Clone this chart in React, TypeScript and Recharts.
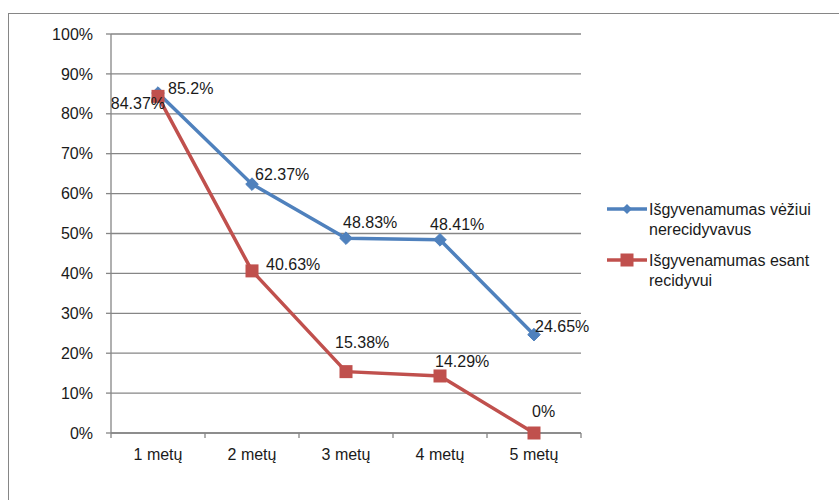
import React from "react";
import { LineChart, Line, XAxis, YAxis, CartesianGrid, LabelList } from "recharts";

const categories = ["1 metų", "2 metų", "3 metų", "4 metų", "5 metų"];
const seriesNames = ["Išgyvenamumas vėžiui nerecidyvavus", "Išgyvenamumas esant recidyvui"];
const blueValues = [85.2, 62.37, 48.83, 48.41, 24.65];
const redValues = [84.37, 40.63, 15.38, 14.29, 0];
const yTicks = [0, 10, 20, 30, 40, 50, 60, 70, 80, 90, 100];

const BLUE = "#4F81BD";
const RED = "#C0504D";
const GRID = "#868686";
const TEXT = "#1a1a1a";
const FONT = "'Liberation Sans', Arial, sans-serif";
const FS = 16;

// label placement (dx, baseline dy, anchor) per point
const blueLabelPlace: [number, number, string][] = [
  [10, 1, "start"],
  [3, -4, "start"],
  [-3, -10, "start"],
  [-10, -10, "start"],
  [1, -3, "start"],
];
const redLabelPlace: [number, number, string][] = [
  [7, 13, "end"],
  [14, -1, "start"],
  [-11, -24, "start"],
  [-5, -9, "start"],
  [-2, -16, "start"],
];

const data = categories.map((c, i) => ({
  x: i + 1,
  cat: c,
  blue: blueValues[i],
  red: redValues[i],
}));

const xTicks: number[] = [];
for (let i = 0; i <= categories.length; i++) {
  xTicks.push(i + 0.5);
  if (i < categories.length) xTicks.push(i + 1);
}

const fmt = (v: number) => `${v}%`;

const Diamond = (props: any) => {
  const { cx, cy } = props;
  if (cx == null || cy == null) return null;
  const r = 6.3;
  return (
    <polygon
      points={`${cx},${cy - r} ${cx + r},${cy} ${cx},${cy + r} ${cx - r},${cy}`}
      fill={BLUE}
      stroke={BLUE}
    />
  );
};

const Square = (props: any) => {
  const { cx, cy } = props;
  if (cx == null || cy == null) return null;
  const s = 13;
  return <rect x={cx - s / 2} y={cy - s / 2} width={s} height={s} fill={RED} />;
};

const makeLabel = (place: [number, number, string][]) => (props: any) => {
  const { x, y, value, index } = props;
  const p = place[index] || [0, 0, "start"];
  return (
    <text
      x={x + p[0]}
      y={y + p[1]}
      textAnchor={p[2] as any}
      fontFamily={FONT}
      fontSize={FS}
      fill={TEXT}
    >
      {fmt(value)}
    </text>
  );
};

const XTick = (props: any) => {
  const { x, y, payload } = props;
  const v = payload.value as number;
  if (Math.abs(v - Math.round(v)) > 0.01) {
    return <line x1={x} x2={x} y1={y - 5} y2={y} stroke={GRID} strokeWidth={1.3} />;
  }
  return (
    <text x={x} y={y + 22} textAnchor="middle" fontFamily={FONT} fontSize={FS} fill={TEXT}>
      {categories[Math.round(v) - 1]}
    </text>
  );
};

const LegendIcon = ({ color, kind }: { color: string; kind: string }) => (
  <svg width={40} height={14} style={{ display: "block" }}>
    <line x1={0} x2={40} y1={7} y2={7} stroke={color} strokeWidth={3.5} />
    {kind === "diamond" ? (
      <polygon points="20,2 25,7 20,12 15,7" fill={color} />
    ) : (
      <rect x={13.5} y={0.5} width={13} height={13} fill={color} />
    )}
  </svg>
);

export default function App() {
  const legendItems = [
    { name: seriesNames[0], color: BLUE, kind: "diamond", lines: ["Išgyvenamumas vėžiui", "nerecidyvavus"] },
    { name: seriesNames[1], color: RED, kind: "square", lines: ["Išgyvenamumas esant", "recidyvui"] },
  ];
  return (
    <div
      style={{
        position: "absolute",
        left: 0,
        top: 0,
        width: 839,
        height: 500,
        background: "#fff",
        overflow: "hidden",
        fontFamily: FONT,
      }}
    >
      <div
        style={{
          position: "absolute",
          left: 8,
          top: 13,
          width: 900,
          height: 600,
          border: `1.5px solid ${GRID}`,
          boxSizing: "border-box",
        }}
      />
      <div style={{ position: "absolute", left: 0, top: 0 }}>
        <LineChart
          width={839}
          height={500}
          data={data}
          margin={{ top: 34, right: 258, bottom: 37, left: 51 }}
        >
          <CartesianGrid vertical={false} stroke={GRID} strokeWidth={1.3} />
          <XAxis
            dataKey="x"
            type="number"
            domain={[0.5, 5.5]}
            ticks={xTicks}
            interval={0}
            height={30}
            tickSize={5}
            tickMargin={0}
            tickLine={false}
            axisLine={{ stroke: GRID, strokeWidth: 1.3 }}
            tick={<XTick />}
          />
          <YAxis
            type="number"
            domain={[0, 100]}
            ticks={yTicks}
            interval={0}
            width={60}
            tickSize={5}
            tickMargin={13}
            tickFormatter={fmt}
            axisLine={{ stroke: GRID, strokeWidth: 1.3 }}
            tickLine={{ stroke: GRID, strokeWidth: 1.3 }}
            tick={{ fontFamily: FONT, fontSize: FS, fill: TEXT }}
          />
          <Line
            dataKey="blue"
            name={seriesNames[0]}
            stroke={BLUE}
            strokeWidth={3.5}
            dot={<Diamond />}
            activeDot={false}
            isAnimationActive={false}
          >
            <LabelList dataKey="blue" content={makeLabel(blueLabelPlace)} />
          </Line>
          <Line
            dataKey="red"
            name={seriesNames[1]}
            stroke={RED}
            strokeWidth={3.5}
            dot={<Square />}
            activeDot={false}
            isAnimationActive={false}
          >
            <LabelList dataKey="red" content={makeLabel(redLabelPlace)} />
          </Line>
        </LineChart>
      </div>
      <div style={{ position: "absolute", left: 607, top: 200, color: TEXT, fontSize: FS, lineHeight: "20px" }}>
        {legendItems.map((it, i) => (
          <div key={i} style={{ display: "flex", alignItems: "flex-start", marginBottom: i === 0 ? 11 : 0 }}>
            <div style={{ marginTop: 2 }}>
              <LegendIcon color={it.color} kind={it.kind} />
            </div>
            <div style={{ marginLeft: 2 }}>
              {it.lines.map((l, j) => (
                <div key={j}>{l}</div>
              ))}
            </div>
          </div>
        ))}
      </div>
    </div>
  );
}
